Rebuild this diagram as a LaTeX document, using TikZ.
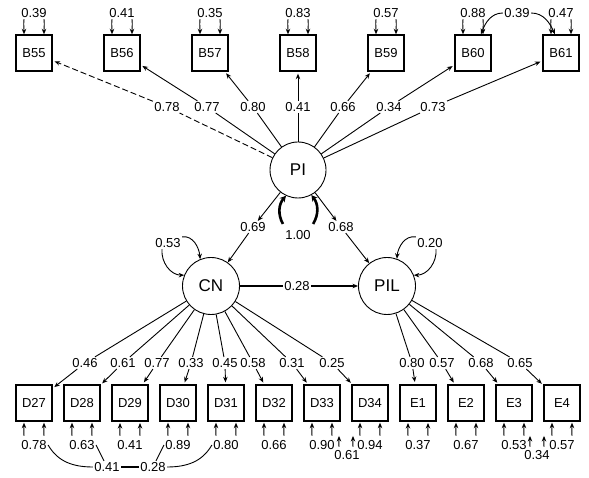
\documentclass[tikz,border=0pt]{standalone}
\usepackage{fontspec}
\setmainfont{Liberation Sans}
\usetikzlibrary{arrows.meta}

\begin{document}
\begin{tikzpicture}[x=1pt, y=1pt, line width=0.9pt,
    >={Stealth[length=5.5pt,width=4.5pt]},
    obs/.style={draw, line width=1.4pt, minimum size=36pt, inner sep=0pt, font=\fontsize{13}{15}\selectfont},
    lat/.style={draw, circle, minimum size=57pt, inner sep=0pt, font=\fontsize{17}{19}\selectfont},
    num/.style={fill=white, inner sep=1pt, font=\fontsize{13}{15}\selectfont}]
    \useasboundingbox (0,0) rectangle (589,478);

    % latent variables
    \node[lat, minimum size=56pt] (PI) at (298,308) {PI};
    \node[lat] (CN) at (211,192) {CN};
    \node[lat] (PIL) at (387,192) {PIL};

    % PI indicators
    \foreach \n/\x/\ev/\lx/\lv in {55/34/0.39/167/0.78, 56/122/0.41/207/0.77, 57/210/0.35/253/0.80,
        58/298/0.83/298/0.41, 59/386/0.57/343/0.66, 60/473/0.88/389/0.34, 61/561/0.47/433/0.73}{
      \node[obs] (B\n) at (\x,425) {B\n};
      \node[num] (eB\n) at (\x,465) {\ev};
      \node[num] (lB\n) at (\lx,371) {\lv};
      \draw[->] ([xshift=-10pt]eB\n.south) to[out=-95,in=90] ([xshift=-10pt]B\n.north);
      \draw[->] ([xshift=10pt]eB\n.south) to[out=-85,in=90] ([xshift=10pt]B\n.north);
    }
    \draw[dash pattern=on 6pt off 3pt] (PI) -- (lB55);
    \draw[->, dash pattern=on 6pt off 3pt, shorten >=2pt] (lB55) -- (B55);
    \foreach \n in {56,...,61}{
      \draw (PI) -- (lB\n);
      \draw[->, shorten >=2pt] (lB\n) -- (B\n);
    }
    \node[num] (c39) at (517,465) {0.39};
    \draw[->] (c39.west) to[out=180,in=70] ([xshift=8pt]B60.north);
    \draw[->] (c39.east) to[out=0,in=115] ([xshift=-6pt]B61.north);

    % structural part
    \node[num] (l69) at (253,251) {0.69};
    \node[num] (l68) at (341,251) {0.68};
    \node[num] (l28) at (297,192) {0.28};
    \draw[->] (PI) -- (l69);
    \draw[->] (l69) -- (CN);
    \draw[->] (PI) -- (l68);
    \draw[->] (l68) -- (PIL);
    \draw[line width=1.5pt] (CN) -- (l28);
    \draw[->, line width=1.5pt] (l28) -- (PIL);

    \node[num] (v100) at (298,243) {1.00};
    \draw[-{Stealth[length=6pt,width=6.5pt]}, line width=2.6pt] ([xshift=-1pt,yshift=5pt]v100.north west) to[bend left=35] (PI.-115);
    \draw[-{Stealth[length=6pt,width=6.5pt]}, line width=2.6pt] ([xshift=1pt,yshift=5pt]v100.north east) to[bend right=35] (PI.-62);
    \node[num] (v53) at (168,235) {0.53};
    \draw[->] (v53.north east) to[out=10,in=95] (CN.112);
    \draw[->] ([xshift=-6pt]v53.south) to[out=-95,in=180] (CN.158);
    \node[num] (v20) at (430,235) {0.20};
    \draw[->] (v20.north west) to[out=170,in=85] (PIL.70);
    \draw[->] ([xshift=6pt]v20.south) to[out=-85,in=0] (PIL.22);

    % CN and PIL indicators
    \foreach \n/\x/\ev/\lx/\lv/\w/\src in {D27/34/0.78/85/0.46/1.4/CN, D28/82/0.63/123/0.61/1.4/CN,
        D29/130/0.41/157/0.77/2/CN, D30/178/0.89/191/0.33/1.4/CN, D31/226/0.80/225/0.45/1.4/CN,
        D32/274/0.66/253/0.58/1.4/CN, D33/322/0.90/292/0.31/1.4/CN, D34/370/0.94/332/0.25/1.4/CN,
        E1/418/0.37/412/0.80/2/PIL, E2/466/0.67/442/0.57/1.4/PIL, E3/514/0.53/481/0.68/1.4/PIL,
        E4/562/0.57/520/0.65/1.4/PIL}{
      \node[obs, line width=\w pt] (\n) at (\x,75) {\n};
      \node[num] (e\n) at (\x,33) {\ev};
      \node[num] (l\n) at (\lx,115) {\lv};
      \draw[->] ([xshift=-10pt,yshift=3pt]e\n.north) to[out=95,in=-90] ([xshift=-10pt,yshift=-1pt]\n.south);
      \draw[->] ([xshift=10pt,yshift=3pt]e\n.north) to[out=95,in=-90] ([xshift=10pt,yshift=-1pt]\n.south);
      \draw (\src) -- (l\n);
      \draw[->, shorten >=2pt] (l\n) -- (\n);
    }

    % correlated errors
    \node[num] (c41) at (107,11) {0.41};
    \node[num] (c28) at (153,11) {0.28};
    \draw (eD27.east) to[out=-60,in=180] (c41);
    \draw (eD28.east) -- (c41);
    \draw[line width=1.8pt] (c41) -- (c28);
    \draw (eD30.west) -- (c28);
    \draw (c28) to[out=0,in=-120] (eD31.west);
    \node[num] (c61) at (347,23) {0.61};
    \draw[->] ([xshift=-8pt,yshift=2pt]c61.north) to[out=95,in=-90] ++(0,11);
    \draw[->] ([xshift=6pt,yshift=2pt]c61.north) to[out=95,in=-90] ++(0,11);
    \node[num] (c34) at (537,23) {0.34};
    \draw[->] ([xshift=-7pt,yshift=2pt]c34.north) to[out=95,in=-90] ++(0,11);
    \draw[->] ([xshift=7pt,yshift=2pt]c34.north) to[out=95,in=-90] ++(0,11);
  \end{tikzpicture}
\end{document}
